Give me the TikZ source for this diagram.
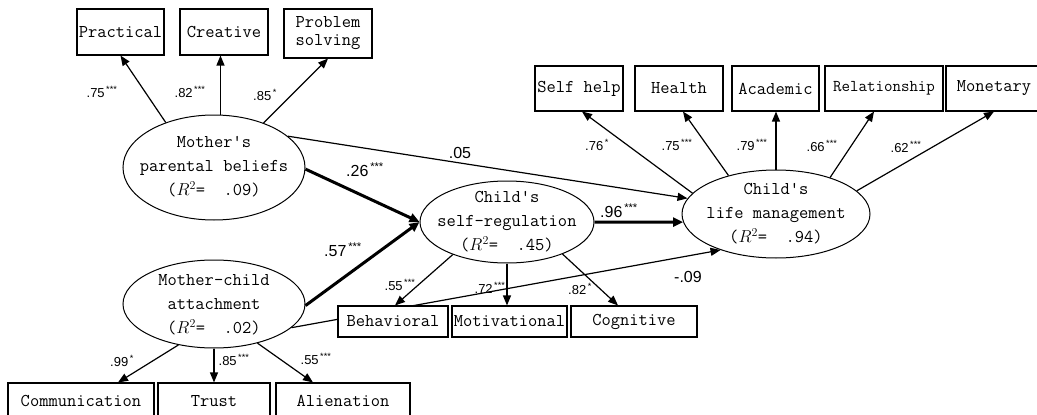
\documentclass[tikz,border=0pt]{standalone}
\usepackage{fontspec}
\newfontfamily\labfont{Liberation Sans}
\newfontfamily\boxfont{Latin Modern Mono}
\usetikzlibrary{arrows.meta,shapes.geometric,calc,backgrounds}
\newcommand\mystars[1]{\textsuperscript{\,#1}}
\begin{document}
\begin{tikzpicture}[x=1pt,y=-1pt,
  box/.style={draw, line width=1.1pt, fill=white, inner sep=0pt, align=center,
    font=\boxfont\fontsize{18}{18}\selectfont},
  lv/.style={draw, ellipse, line width=1pt, inner sep=0pt},
  lvtext/.style={align=center, inner sep=0pt, font=\boxfont\fontsize{18}{24}\selectfont},
  arr/.style={line width=1.2pt, -{Triangle[length=10pt,width=8pt]}},
  tarr/.style={line width=3pt, -{Triangle[length=10pt,width=9pt]}},
  sm/.style={inner sep=0pt, font=\labfont\fontsize{13}{13}\selectfont},
  bg/.style={inner sep=0pt, font=\labfont\fontsize{16}{16}\selectfont},
]
\useasboundingbox (0,0) rectangle (1037,415);
\clip (0,0) rectangle (1037,415);

% top-left boxes
\node[box, minimum width=87pt, minimum height=46pt] (practical) at (120.5,32) {Practical};
\node[box, minimum width=88pt, minimum height=46pt] (creative) at (224,32) {Creative};
\node[box, minimum width=88pt, minimum height=49pt] (problem) at (328,33.5) {Problem\\solving};

% top-right boxes
\node[box, minimum width=88pt, minimum height=45pt] (selfhelp) at (579,88.5) {Self help};
\node[box, minimum width=88pt, minimum height=45pt] (health) at (679,88.5) {Health};
\node[box, minimum width=87pt, minimum height=45pt] (academic) at (775.5,88.5) {Academic};
\node[box, minimum width=118pt, minimum height=45pt, font=\boxfont\fontsize{16.5}{18}\selectfont] (relation) at (884,88.5) {Relationship};
\node[box, minimum width=96pt, minimum height=45pt] (monetary) at (994,88.5) {Monetary};

% middle boxes
\node[box, minimum width=110pt, minimum height=31pt] (behav) at (393,321.5) {Behavioral};
\node[box, minimum width=115pt, minimum height=31pt] (motiv) at (509.5,321.5) {Motivational};
\node[box, minimum width=126pt, minimum height=31pt] (cogn) at (634,321.5) {Cognitive};

% bottom boxes
\node[box, minimum width=146pt, minimum height=36pt] (comm) at (81,401) {Communication};
\node[box, minimum width=112pt, minimum height=36pt] (trust) at (214,401) {Trust};
\node[box, minimum width=134pt, minimum height=36pt] (alien) at (343,401) {Alienation};

% latent variables
\node[lv, minimum width=182pt, minimum height=105pt] (beliefs) at (214,167.5) {};
\node[lvtext] (beliefsT) at (214,167) {Mother's\\parental beliefs\\($R^{2}$=~~.09)};
\node[lv, minimum width=182pt, minimum height=88pt] (attach) at (214,304) {};
\node[lvtext] (attachT) at (214,305) {Mother-child\\attachment\\($R^{2}$=~~.02)};
\node[lv, minimum width=174pt, minimum height=82pt] (selfreg) at (507,222) {};
\node[lvtext] (selfregT) at (507,222) {Child's\\self-regulation\\($R^{2}$=~~.45)};
\node[lv, minimum width=188pt, minimum height=88pt] (lm) at (776,214) {};
\node[lvtext] (lmT) at (776,214) {Child's\\life management\\($R^{2}$=~~.94)};

% connectors
\draw[arr] (beliefs.137) -- (practical.south);
\draw[arr] (beliefs.83) -- (beliefs.83 |- creative.south);
\draw[arr] (beliefs.42) -- (problem.south);
\draw[arr] (beliefs.23) -- (lm.170);
\draw[tarr] (beliefs.-1) -- (selfreg.west);
\draw[tarr] (attach.-1) -- (selfreg.west);
\begin{pgfonlayer}{background}
\draw[arr] (attach.-17) -- (lm.213);
\end{pgfonlayer}
\draw[arr] (attach.-131) -- ($(comm.north)+(37,0)$);
\draw[arr] (attach.south) -- (trust.north);
\draw[arr] (attach.-42) -- ($(alien.north)+(-30,0)$);
\draw[arr] (selfreg.-149) -- ($(behav.north)+(2,0)$);
\draw[arr] (selfreg.south) -- (selfreg.south |- motiv.north);
\draw[arr] (selfreg.-30) -- ($(cogn.north)+(-16,0)$);
\draw[tarr] (selfreg.east) -- (lm.185);
\draw[arr] (lm.166) -- ($(selfhelp.south)+(3,0)$);
\draw[arr] (lm.141) -- ($(health.south)+(4,0)$);
\draw[arr] (lm.north) -- (lm.north |- academic.south);
\draw[arr] (lm.34) -- ($(relation.south)+(-10,0)$);
\draw[arr] (lm.16) -- (monetary.south);

% small labels
\node[sm] (l1) at (102,92) {.75\mystars{***}};
\node[sm] (l2) at (190,92) {.82\mystars{***}};
\node[sm] (l3) at (265,95) {.85\mystars{*}};
\node[sm] (l4) at (400,285) {.55\mystars{***}};
\node[sm] (l5) at (490,288) {.72\mystars{***}};
\node[sm] (l6) at (580,289) {.82\mystars{*}};
\node[sm] (l7) at (122,361) {.99\mystars{*}};
\node[sm] (l8) at (234,360) {.85\mystars{***}};
\node[sm] (l9) at (316,359) {.55\mystars{***}};
\node[sm] (l10) at (597,145) {.76\mystars{*}};
\node[sm] (l11) at (677,145) {.75\mystars{***}};
\node[sm] (l12) at (752,145) {.79\mystars{***}};
\node[sm] (l13) at (822,146) {.66\mystars{***}};
\node[sm] (l14) at (906,147) {.62\mystars{***}};

% big labels
\node[bg] (b1) at (365,170) {.26\mystars{***}};
\node[bg] (b2) at (460,153) {.05};
\node[bg] (b3) at (619,211) {.96\mystars{***}};
\node[bg] (b4) at (343,250) {.57\mystars{***}};
\node[bg] (b5) at (688,277) {-.09};
\end{tikzpicture}
\end{document}
